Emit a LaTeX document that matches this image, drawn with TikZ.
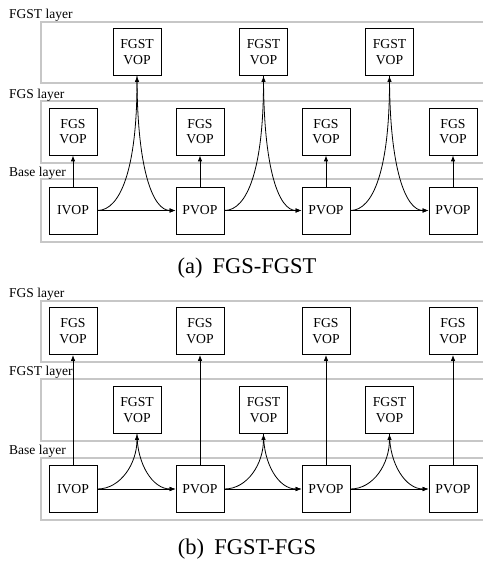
\documentclass[tikz,border=0pt]{standalone}
\usepackage{fontspec}
\setmainfont{Liberation Serif}
\usetikzlibrary{arrows.meta}
\begin{document}
\begin{tikzpicture}[x=1pt,y=-1pt,
  vop/.style={draw,line width=0.8pt,minimum width=48pt,minimum height=47pt,inner sep=0pt,align=center,font=\fontsize{13.7}{15.7}\selectfont},
  band/.style={draw=black!22,line width=1.2pt},
  lay/.style={anchor=west,inner sep=0pt,font=\fontsize{13.5}{15}\selectfont},
  captext/.style={inner sep=0pt,font=\fontsize{22.5}{26}\selectfont},
  arr/.style={line width=0.8pt,-{Latex[length=6pt,width=4.5pt]}}]
\useasboundingbox (0,0) rectangle (482,561);
% ---------- (a) ----------
\draw[band] (483,22) -- (41,22) -- (41,83) -- (483,83);
\draw[band] (483,101) -- (41,101) -- (41,163) -- (483,163);
\draw[band] (483,179) -- (41,179) -- (41,242) -- (483,242);
\node[lay] (aLT) at (9,15) {FGST layer};
\node[lay] (aLS) at (9,95) {FGS layer};
\node[lay] (aLB) at (9,173) {Base layer};
\node[vop] (aI)  at (73,210.5)  {IVOP};
\node[vop] (aP1) at (200,210.5) {PVOP};
\node[vop] (aP2) at (326,210.5) {PVOP};
\node[vop] (aP3) at (453,210.5) {PVOP};
\node[vop] (aS0) at (73,131.5)  {FGS\\VOP};
\node[vop] (aS1) at (200,131.5) {FGS\\VOP};
\node[vop] (aS2) at (326,131.5) {FGS\\VOP};
\node[vop] (aS3) at (453,131.5) {FGS\\VOP};
\node[vop] (aT1) at (137,52) {FGST\\VOP};
\node[vop] (aT2) at (263.5,52) {FGST\\VOP};
\node[vop] (aT3) at (389.5,52) {FGST\\VOP};
\foreach \b/\s in {aI/aS0,aP1/aS1,aP2/aS2,aP3/aS3}{\draw[arr] (\b.north) -- (\s.south);}
\foreach \a/\t/\b in {aI/aT1/aP1,aP1/aT2/aP2,aP2/aT3/aP3}{
  \draw[arr] (\a.east) -- (\b.west);
  \draw[arr] (\a.east) .. controls +(23,0) and +(0,93) .. (\t.south);
  \draw[arr] (\t.south) .. controls +(0,93) and +(-23,0) .. (\b.west);
}
\node[captext] (capa) at (247,268) {(a)\hspace{0.45em}FGS-FGST};
% ---------- (b) ----------
\draw[band] (483,301) -- (41,301) -- (41,362) -- (483,362);
\draw[band] (483,379) -- (41,379) -- (41,441) -- (483,441);
\draw[band] (483,458) -- (41,458) -- (41,520) -- (483,520);
\node[lay] (bLS) at (9,294) {FGS layer};
\node[lay] (bLT) at (9,372) {FGST layer};
\node[lay] (bLB) at (9,451) {Base layer};
\node[vop] (bI)  at (73,489)  {IVOP};
\node[vop] (bP1) at (200,489) {PVOP};
\node[vop] (bP2) at (326,489) {PVOP};
\node[vop] (bP3) at (453,489) {PVOP};
\node[vop] (bS0) at (73,331)  {FGS\\VOP};
\node[vop] (bS1) at (200,331) {FGS\\VOP};
\node[vop] (bS2) at (326,331) {FGS\\VOP};
\node[vop] (bS3) at (453,331) {FGS\\VOP};
\node[vop] (bT1) at (137,410) {FGST\\VOP};
\node[vop] (bT2) at (263.5,410) {FGST\\VOP};
\node[vop] (bT3) at (389.5,410) {FGST\\VOP};
\foreach \b/\s in {bI/bS0,bP1/bS1,bP2/bS2,bP3/bS3}{\draw[arr] (\b.north) -- (\s.south);}
\foreach \a/\t/\b in {bI/bT1/bP1,bP1/bT2/bP2,bP2/bT3/bP3}{
  \draw[arr] (\a.east) -- (\b.west);
  \draw[arr] (\a.east) .. controls +(23,0) and +(0,30) .. (\t.south);
  \draw[arr] (\t.south) .. controls +(0,30) and +(-23,0) .. (\b.west);
}
\node[captext] (capb) at (247,549) {(b)\hspace{0.45em}FGST-FGS};
\end{tikzpicture}
\end{document}
